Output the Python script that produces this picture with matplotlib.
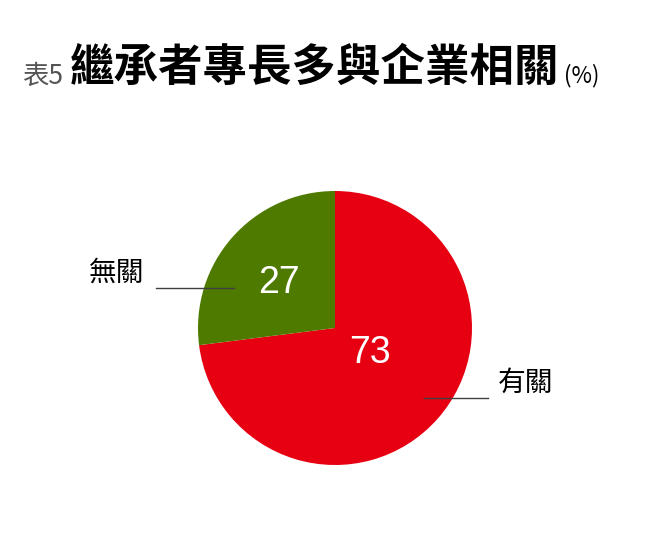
import matplotlib.pyplot as plt

# data
labels = ['有關', '無關']
values = [73, 27]
colors = ['#E60012', '#4E7A00']

plt.rcParams['font.family'] = ['Noto Sans CJK TC', 'DejaVu Sans']

W, H = 656, 536
fig = plt.figure(figsize=(W / 100, H / 100), dpi=100)

# pie axes: centre (335, 328) px, radius 137 px
cx, cy, r = 335, 328, 137
ax = fig.add_axes([(cx - r) / W, 1 - (cy + r) / H, 2 * r / W, 2 * r / H])
ax.pie(values, colors=colors, startangle=90, counterclock=False,
       wedgeprops=dict(linewidth=0))
ax.set_xlim(-1, 1)
ax.set_ylim(-1, 1)
ax.set_aspect('equal')
ax.axis('off')


def px(x, y):
    # pixel position -> pie data coords
    return (x - cx) / r, (cy - y) / r


# numbers inside the slices
num_pos = [(370, 353), (279, 283)]
for v, (x, y) in zip(values, num_pos):
    ax.text(*px(x, y), str(v), color='white', fontsize=27,
            family='Liberation Sans', ha='center', va='center')

# outside labels with leader lines
lab_pos = [(526, 383), (117, 273)]
lines = [((424, 398), (488, 398)), ((156, 288), (234, 288))]
for lab, (x, y), (p0, p1) in zip(labels, lab_pos, lines):
    ax.text(*px(x, y), lab, fontsize=20, ha='center', va='center')
    xs, ys = zip(px(*p0), px(*p1))
    ax.plot(xs, ys, color='#404040', lw=1, clip_on=False)

# title
fig.text(22 / W, 1 - 76 / H, '表5', fontsize=19, color='#555555',
         ha='left', va='center')
fig.text(70 / W, 1 - 68 / H, '繼承者專長多與企業相關', fontsize=32,
         fontweight='bold', color='black', ha='left', va='center')
fig.text(564 / W, 1 - 76 / H, '(%)', fontsize=16, color='black',
         ha='left', va='center')

fig.savefig('out.png', dpi=100)
